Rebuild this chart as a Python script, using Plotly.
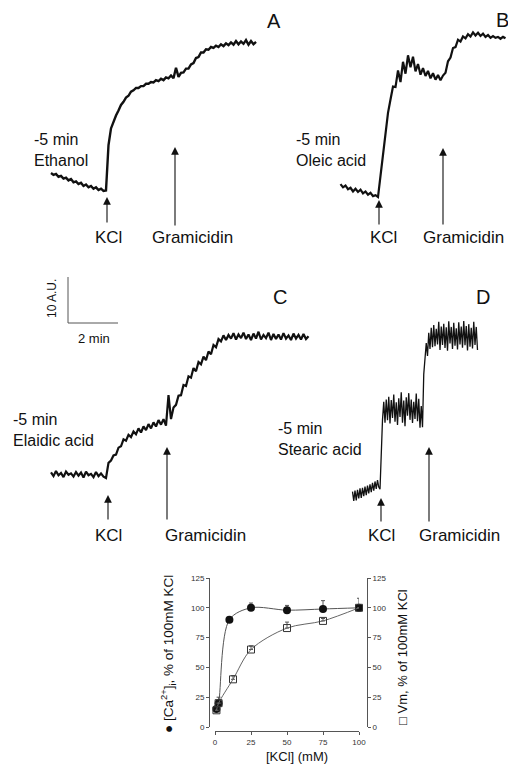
import plotly.graph_objects as go

# ---------------- data ----------------
# Fluorescence traces (A.U., relative to level at KCl addition), sampled on a regular time grid (min, t=0 at KCl)
trace_A_t0, trace_A_dt = -2.2, 0.1
trace_A = [3.9, 3.5, 3.7, 3.1, 3.3, 2.7, 2.9, 2.3, 2.6, 1.9, 2.1, 1.5, 1.8, 1.1, 1.4, 0.8, 1.1, 0.5, 0.8, 0.2, 0.5, 0.0,
           0.1, 10.0, 13.6, 15.1, 16.4, 17.5, 18.7, 19.4, 20.3, 20.7, 21.6, 21.9, 22.4, 22.4, 22.8, 22.8, 23.3, 23.3,
           23.7, 23.6, 24.1, 23.9, 24.4, 24.1, 24.7, 24.5, 25.1, 24.5, 26.8, 24.8, 25.7, 25.8, 26.6, 26.6, 27.5, 27.8,
           28.9, 29.1, 30.1, 30.1, 30.8, 30.7, 31.3, 31.1, 31.6, 31.3, 31.9, 31.5, 32.1, 31.7, 32.3, 31.8, 32.6, 31.9,
           32.5, 32.0, 32.8, 31.8, 32.6, 31.9, 32.4]
trace_B_t0, trace_B_dt = -1.5, 0.1
trace_B = [2.8, 2.1, 2.5, 1.7, 2.0, 1.2, 1.8, 1.1, 1.6, 0.8, 1.2, 0.5, 0.9, 0.2, 0.4,
           0.0, 4.6, 9.1, 13.7, 18.3, 21.2, 24.0, 23.9, 27.5, 25.0, 29.4, 26.8, 30.8, 28.2, 30.5, 27.3, 28.9, 26.6,
           28.0, 26.3, 27.4, 25.8, 26.9, 25.5, 26.5, 25.4, 26.4, 27.0, 29.5, 30.3, 32.4, 32.6, 34.2, 33.8, 34.9, 34.5,
           35.4, 34.9, 35.8, 35.1, 35.7, 35.0, 35.5, 34.8, 35.2, 34.6, 35.0, 34.6, 34.8, 34.4, 34.8, 34.5]
trace_C_t0, trace_C_dt = -2.2, 0.1
trace_C = [1.2, 0.4, 1.5, 0.6, 1.1, 0.2, 1.4, 0.7, 1.0, 0.3, 1.3, 0.5, 1.2, 0.1, 1.4, 0.6, 0.9, 0.2, 1.3, 0.4, 1.0, 0.3,
           0.0, 3.3, 3.8, 4.9, 5.1, 6.6, 6.9, 8.4, 8.1, 9.4, 8.9, 10.1, 9.5, 10.8, 9.9, 11.2, 10.4, 11.7, 10.8, 12.1,
           11.2, 12.6, 11.6, 12.8, 11.4, 18.0, 12.8, 15.3, 15.9, 17.9, 18.0, 20.2, 20.0, 22.1, 21.8, 23.9, 23.2, 25.2,
           24.7, 26.4, 25.6, 27.5, 26.9, 28.9, 28.4, 30.2, 29.7, 31.0, 30.0, 31.1, 30.3, 31.5, 30.1, 31.2, 30.4, 31.6,
           30.2, 31.2, 30.0, 31.4, 30.3, 31.8, 30.1, 31.1, 30.4, 31.6, 30.0, 31.3, 30.2, 31.2, 30.1, 31.5, 30.3, 31.0,
           30.0, 31.4, 30.3, 31.1, 30.1, 31.3, 30.2, 30.8]
trace_D_t0, trace_D_dt = -1.1, 0.05
trace_D = [-1.0, -3.0, -0.8, -2.9, -0.6, -2.5, -0.3, -2.4, -0.2, -2.0, 0.1, -1.8, 0.3, -1.4, 0.6, -1.1, 0.9, -0.8,
           1.2, -0.4, 1.5, 0.0,
           -0.5, 8.0, 14.6, 18.5, 14.0, 19.0, 14.5, 19.6, 13.8, 18.9, 15.0, 20.1, 14.2, 18.4, 13.5, 19.3, 15.2, 20.6,
           14.0, 18.8, 13.2, 19.5, 15.5, 20.4, 14.6, 19.0, 13.9, 18.5, 14.8, 20.3, 14.3, 19.2, 12.9, 17.6, 13.0, 24.5,
           27.8, 31.3, 28.5, 33.5, 30.0, 34.6, 30.4, 35.2, 30.6, 34.4, 31.0, 35.9, 29.8, 34.9, 30.9, 35.5, 30.2, 34.7,
           29.6, 36.0, 31.2, 34.8, 30.0, 35.7, 30.7, 34.5, 29.9, 35.8, 31.0, 34.9, 30.3, 36.1, 30.8, 35.0, 29.7, 35.4,
           30.5, 34.6, 30.1, 35.9, 30.9, 34.8, 29.8]
pretreat_time = "-5 min"
compounds = ["Ethanol", "Oleic acid", "Elaidic acid", "Stearic acid"]
panel_letters = ["A", "B", "C", "D"]
kcl_time = [0.04, 0.04, 0.08, 0.04]          # min
gramicidin_time = [2.76, 2.6, 2.44, 1.96]    # min
scalebar_min, scalebar_au = 2, 10

# Dose-response
ca_kcl = [1, 2.5, 10, 25, 50, 75, 100]
ca_pct = [15, 20, 90, 100, 98, 99, 100]
ca_err = [0, 5, 2, 4, 4, 7, 8]
vm_kcl = [1, 2.5, 12.5, 25, 50, 75, 100]
vm_pct = [14, 20, 40, 65, 83, 89, 100]
vm_err = [0, 0, 3, 3, 5, 2, 0]
y_ticks = [0, 25, 50, 75, 100, 125]
x_ticks = [0, 25, 50, 75, 100]

# ---------------- layout helpers ----------------
W, H = 508, 765
PX_MIN, PX_AU = 25.0, 4.6
FONT = "Liberation Sans, Arial, Helvetica, sans-serif"
INK = "#111111"
LBL = 17

def px(x):
    return x / W

def py(y):
    return 1 - y / H

def label(x, y, text, size, **kw):
    d = dict(x=px(x), y=py(y), xref="paper", yref="paper", text=text, showarrow=False,
             xanchor="center", yanchor="middle", font=dict(size=size, color=INK, family=FONT))
    d.update(kw)
    return d

# pixel boxes (x0, x1, y0, y1) and pixel position of the KCl reference point
panels = [
    dict(box=(0, 262, 0, 262), k=(106, 191)),
    dict(box=(262, 508, 0, 262), k=(378, 197)),
    dict(box=(0, 330, 262, 560), k=(106, 478)),
    dict(box=(330, 508, 262, 560), k=(380, 487)),
]
traces = [(trace_A_t0, trace_A_dt, trace_A), (trace_B_t0, trace_B_dt, trace_B),
          (trace_C_t0, trace_C_dt, trace_C), (trace_D_t0, trace_D_dt, trace_D)]
trace_w = [2.4, 2.2, 2.2, 1.3]

fig = go.Figure()
annotations = []
layout = {}

kcl_tip_px = [197, 200, 495, 498]
kcl_tail_px = [224, 226, 521, 523]
gram_tip_px = [147, 148, 447, 447]
gram_tail_px = [227, 226, 521, 523]
kcl_text_px = [(108, 237), (383, 237), (108, 535), (381, 535)]
gram_text_px = [(192, 237), (463, 237), (205, 535), (459, 535)]
cond_px = [(32, 150), (294, 150), (11, 430), (276, 439)]
letter_px = [(274, 21), (502, 20), (280, 297), (483, 297)]

for i, (p, (t0, dt, vals)) in enumerate(zip(panels, traces)):
    x0, x1, y0, y1 = p["box"]
    xk, yk = p["k"]
    n = i + 1
    xa = "xaxis" if n == 1 else f"xaxis{n}"
    ya = "yaxis" if n == 1 else f"yaxis{n}"
    xr = "x" if n == 1 else f"x{n}"
    yr = "y" if n == 1 else f"y{n}"
    layout[xa] = dict(domain=[px(x0), px(x1)], range=[(x0 - xk) / PX_MIN, (x1 - xk) / PX_MIN],
                      visible=False, anchor=yr, fixedrange=True, automargin=False)
    layout[ya] = dict(domain=[py(y1), py(y0)], range=[(yk - y1) / PX_AU, (yk - y0) / PX_AU],
                      visible=False, anchor=xr, fixedrange=True, automargin=False)
    tt = [t0 + dt * j for j in range(len(vals))]
    fig.add_trace(go.Scatter(x=tt, y=vals, mode="lines", xaxis=xr, yaxis=yr,
                             line=dict(color=INK, width=trace_w[i]), showlegend=False,
                             hoverinfo="skip"))
    au = lambda y: (yk - y) / PX_AU
    # arrows
    for tx, tip, tail in [(kcl_time[i], kcl_tip_px[i], kcl_tail_px[i]),
                          (gramicidin_time[i], gram_tip_px[i], gram_tail_px[i])]:
        annotations.append(dict(x=tx, y=au(tip), xref=xr, yref=yr, text="", showarrow=True,
                                ax=0, ay=tail - tip, arrowhead=2, arrowsize=1.4, arrowwidth=1.1,
                                arrowcolor=INK))
    annotations.append(label(*kcl_text_px[i], "KCl", LBL))
    annotations.append(label(*gram_text_px[i], "Gramicidin", LBL))
    cx, cy = cond_px[i]
    annotations.append(label(cx, cy, f"{pretreat_time}<br>{compounds[i]}", 16, xanchor="left", align="left"))
    annotations.append(label(*letter_px[i], panel_letters[i], 20))

# scale bar, drawn in panel C units
sb_t, sb_y = (68 - 106) / PX_MIN, (478 - 323) / PX_AU
fig.add_trace(go.Scatter(x=[sb_t, sb_t, sb_t + scalebar_min], y=[sb_y + scalebar_au, sb_y, sb_y],
                         mode="lines", xaxis="x3", yaxis="y3", line=dict(color="#555555", width=1),
                         showlegend=False, hoverinfo="skip"))
annotations.append(label(52, 299, f"{scalebar_au} A.U.", 12, textangle=-90))
annotations.append(label(94, 338, f"{scalebar_min} min", 13))

# ---------------- dose-response panel ----------------
axfont = dict(size=8, color="#333333", family=FONT)
common = dict(ticks="outside", ticklen=3, tickcolor="#555", showline=True, linecolor="#555", linewidth=1,
              showgrid=False, zeroline=False, tickfont=axfont, fixedrange=True, automargin=False)
layout["xaxis5"] = dict(domain=[px(215), px(359)], range=[0, 100], anchor="free", position=py(731),
                        tickvals=x_ticks, **common)
layout["yaxis5"] = dict(domain=[py(727), py(578)], range=[0, 125], anchor="free", position=px(209),
                        tickvals=y_ticks, **common)
layout["yaxis6"] = dict(domain=[py(727), py(578)], range=[0, 125], anchor="free", position=px(367),
                        overlaying="y5", side="right", tickvals=y_ticks, **common)

zeros_vm = [0 for _ in vm_err]
zeros_ca = [0 for _ in ca_err]
fig.add_trace(go.Scatter(x=vm_kcl, y=vm_pct, xaxis="x5", yaxis="y6", mode="lines+markers",
                         line=dict(color="#666666", width=1, shape="spline", smoothing=0.9),
                         marker=dict(symbol="square-open", size=7, color="#333333", line=dict(width=1)),
                         error_y=dict(type="data", symmetric=False, array=vm_err, arrayminus=zeros_vm,
                                      color="#555555", thickness=1, width=2),
                         cliponaxis=False, showlegend=False))
fig.add_trace(go.Scatter(x=ca_kcl, y=ca_pct, xaxis="x5", yaxis="y5", mode="lines+markers",
                         line=dict(color="#555555", width=1, shape="spline", smoothing=0.9),
                         marker=dict(symbol="circle", size=8, color="#111111"),
                         error_y=dict(type="data", symmetric=False, array=ca_err, arrayminus=zeros_ca,
                                      color="#555555", thickness=1, width=2),
                         cliponaxis=False, showlegend=False))

annotations.append(label(168, 654, "● [Ca<sup>2+</sup>]<sub>i</sub>, % of 100mM KCl", 13.5, textangle=-90))
annotations.append(label(402, 657, "□ Vm, % of 100mM KCl", 13, textangle=-90))
annotations.append(label(297, 756, "[KCl] (mM)", 13))

fig.update_layout(width=W, height=H, margin=dict(l=0, r=0, t=0, b=0, autoexpand=False),
                  paper_bgcolor="white", plot_bgcolor="rgba(0,0,0,0)", annotations=annotations,
                  showlegend=False, font=dict(family=FONT, color=INK), **layout)

fig.write_html("out.html", config={"displayModeBar": False},
               post_script="document.body.style.margin='0';document.body.style.overflow='hidden';")
